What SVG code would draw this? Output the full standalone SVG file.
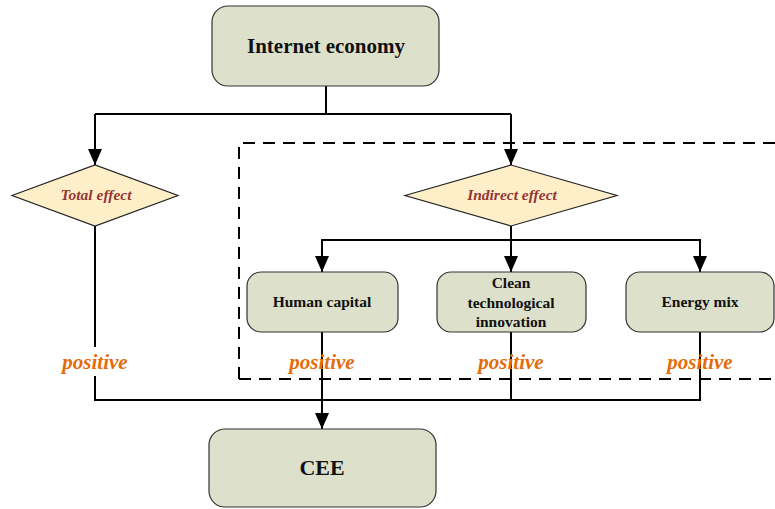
<svg xmlns="http://www.w3.org/2000/svg" width="775" height="509" viewBox="0 0 775 509">
<defs>
<marker id="arr" markerWidth="16" markerHeight="14" refX="16" refY="7" orient="auto" markerUnits="userSpaceOnUse">
<path d="M0,0 L16,7 L0,14 Z" fill="#000"/>
</marker>
</defs>
<style>
.box{fill:#DDE0CA;stroke:#333;stroke-width:1.2}
.dia{fill:#FFEFC9;stroke:#222;stroke-width:1.2}
.line{fill:none;stroke:#000;stroke-width:2}
text{font-family:'Liberation Serif','Times New Roman',serif}
.bt{font-weight:bold;fill:#111;text-anchor:middle}
.dt{font-weight:bold;font-style:italic;fill:#943634;font-size:15.5px;text-anchor:middle}
.pos{font-weight:bold;font-style:italic;fill:#E46C0A;font-size:21px;text-anchor:middle}
</style>
<rect width="775" height="509" fill="#fff"/>
<g id="dashed-region">
<path d="M239,379 L239,143 L780,143 M239,379 L780,379" fill="none" stroke="#000" stroke-width="2" stroke-dasharray="12,8"/>
</g>
<g id="connectors">
<path class="line" d="M326,86 V114 M95,114 H511"/>
<path class="line" d="M95,114 V165" marker-end="url(#arr)"/>
<path class="line" d="M511,114 V165" marker-end="url(#arr)"/>
<path class="line" d="M511,226 V240 M321,240 H701"/>
<path class="line" d="M322,240 V272" marker-end="url(#arr)"/>
<path class="line" d="M511,240 V272" marker-end="url(#arr)"/>
<path class="line" d="M700,240 V272" marker-end="url(#arr)"/>
<path class="line" d="M95,226 V347 M95,376 V400 H700 V332 M511,332 V400 M322,332 V400"/>
<path class="line" d="M322,400 V429" marker-end="url(#arr)"/>
</g>
<g id="internet-economy">
<rect class="box" x="212" y="6" width="227" height="80" rx="16"/>
<text class="bt" x="326" y="53" font-size="21">Internet economy</text>
</g>
<g id="total-effect">
<polygon class="dia" points="12,195.5 95,165 178,195.5 95,226"/>
<text class="dt" x="96" y="200">Total effect</text>
</g>
<g id="indirect-effect">
<polygon class="dia" points="405,195.5 511,165 617,195.5 511,226"/>
<text class="dt" x="512" y="200">Indirect effect</text>
</g>
<g id="human-capital">
<rect class="box" x="247" y="272" width="151" height="60" rx="14"/>
<text class="bt" x="322" y="307" font-size="15.5">Human capital</text>
</g>
<g id="clean-tech">
<rect class="box" x="437" y="272" width="149" height="60" rx="14"/>
<text class="bt" x="511" y="288" font-size="15.5">Clean</text>
<text class="bt" x="511" y="308" font-size="15.5">technological</text>
<text class="bt" x="511" y="327" font-size="15.5">innovation</text>
</g>
<g id="energy-mix">
<rect class="box" x="626" y="272" width="148" height="60" rx="14"/>
<text class="bt" x="700" y="307" font-size="15.5">Energy mix</text>
</g>
<g id="cee">
<rect class="box" x="209" y="429" width="227" height="78" rx="16"/>
<text class="bt" x="322" y="475" font-size="22">CEE</text>
</g>
<g id="labels">
<text class="pos" x="95" y="369">positive</text>
<text class="pos" x="322" y="369">positive</text>
<text class="pos" x="511" y="369">positive</text>
<text class="pos" x="700" y="369">positive</text>
</g>
</svg>
